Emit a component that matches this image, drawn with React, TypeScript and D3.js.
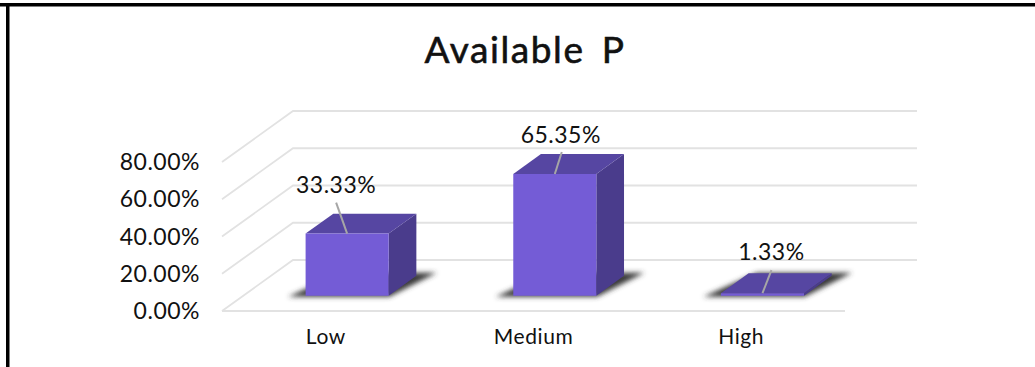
import React from "react";
import * as d3 from "d3";

const categories = ["Low", "Medium", "High"];
const shares = [33.33, 65.35, 1.33];
const shareLabels = ["33.33%", "65.35%", "1.33%"];
const axisTicks = [0, 20, 40, 60, 80];
const chartTitle = "Available P";

const WIDTH = 1035;
const HEIGHT = 367;
const FONT = "'Lato', 'Open Sans', sans-serif";

// Oblique projection of the 3D plot box.
const DEPTH_X = 71;
const DEPTH_Y = -51;
const y = d3.scaleLinear().domain([0, 80]).range([311, 162]);
const x = d3.scaleBand<string>().domain(categories).range([222, 845]).paddingInner(0.6).paddingOuter(0.3);
const project = (px: number, value: number, z: number): [number, number] => [
  px + z * DEPTH_X,
  y(value) + z * DEPTH_Y,
];
const poly = (pts: [number, number][]) => d3.line()(pts)! + "Z";

const Z_FRONT = 0.3;
const Z_BACK = 0.69;

// Offsets of each value label and its leader line, relative to the bar's top.
const labelOffsets = [
  { lx: -11, ly: -48, tx: -11, ty: -31 },
  { lx: 6, ly: -38, tx: 7, ty: -22 },
  { lx: 9, ly: -40, tx: 9, ty: -23 },
];

const textStyle = { paintOrder: "stroke" as const };

export default function App() {
  return (
    <svg
      width={WIDTH}
      height={HEIGHT}
      viewBox={`0 0 ${WIDTH} ${HEIGHT}`}
      style={{ position: "absolute", left: 0, top: 0, background: "#fff" }}
      fontFamily={FONT}
    >
      <defs>
        <filter id="floorShadow" x="-20%" y="-40%" width="140%" height="180%">
          <feGaussianBlur stdDeviation="2.8" />
        </filter>
      </defs>

      {/* frame */}
      <rect x={0} y={3} width={WIDTH} height={3.5} fill="#000" />
      <rect x={6} y={3} width={3.5} height={HEIGHT - 3} fill="#000" />

      <text
        x={525}
        y={63}
        textAnchor="middle"
        fontSize={37}
        fill="#111"
        stroke="#111"
        strokeWidth={0.6}
        letterSpacing={1.6}
        wordSpacing={6}
        style={textStyle}
      >
        {chartTitle}
      </text>

      {/* walls and floor grid */}
      <g stroke="#e2e2e2" strokeWidth={1.8} fill="none">
        {axisTicks.map((t) => {
          const [x0, y0] = project(222, t, 0);
          const [x1, y1] = project(222, t, 1);
          const [x2, y2] = project(846, t, 1);
          return <path key={t} d={`M${x0},${y0}L${x1},${y1}L${x2},${y2}`} />;
        })}
        <path d={`M${project(222, 0, 0).join(",")}L${project(845, 0, 0).join(",")}`} />
      </g>

      {axisTicks.map((t) => (
        <text key={t} x={200} y={y(t) + 8} textAnchor="end" fontSize={23} letterSpacing={0.5} fill="#111">
          {`${t.toFixed(2)}%`}
        </text>
      ))}

      {categories.map((c, i) => {
        const x0 = x(c)!;
        const x1 = x0 + x.bandwidth();
        const v = shares[i];
        const off = labelOffsets[i];
        const frontTopMid = project((x0 + x1) / 2, v, Z_FRONT);
        return (
          <g key={c}>
            {/* cast shadow on the floor */}
            <path
              d={poly([project(x0 - 16, 0, Z_FRONT - 0.02), project(x1 + 2, 0, Z_FRONT - 0.02), project(x1 + 16, 0, Z_BACK + 0.06), project(x0 + 4, 0, Z_BACK + 0.06)])}
              fill="#3a3a3a"
              filter="url(#floorShadow)"
            />
            {/* right side */}
            <path d={poly([project(x1, 0, Z_FRONT), project(x1, 0, Z_BACK), project(x1, v, Z_BACK), project(x1, v, Z_FRONT)])} fill="#4a3c8c" />
            {/* top */}
            <path d={poly([project(x0, v, Z_FRONT), project(x1, v, Z_FRONT), project(x1, v, Z_BACK), project(x0, v, Z_BACK)])} fill="#5646a2" />
            {/* front */}
            <path d={poly([project(x0, 0, Z_FRONT), project(x1, 0, Z_FRONT), project(x1, v, Z_FRONT), project(x0, v, Z_FRONT)])} fill="#745cd6" />
            {/* leader line */}
            <line
              x1={frontTopMid[0]}
              y1={frontTopMid[1]}
              x2={frontTopMid[0] + off.tx}
              y2={frontTopMid[1] + off.ty}
              stroke="#a6a6a6"
              strokeWidth={2}
            />
            <text
              x={frontTopMid[0] + off.lx}
              y={frontTopMid[1] + off.ly + 7}
              textAnchor="middle"
              fontSize={23}
              letterSpacing={0.5}
              fill="#111"
            >
              {shareLabels[i]}
            </text>
            <text x={(x0 + x1) / 2} y={344} textAnchor="middle" fontSize={21} letterSpacing={0.6} fill="#111">
              {c}
            </text>
          </g>
        );
      })}
    </svg>
  );
}
